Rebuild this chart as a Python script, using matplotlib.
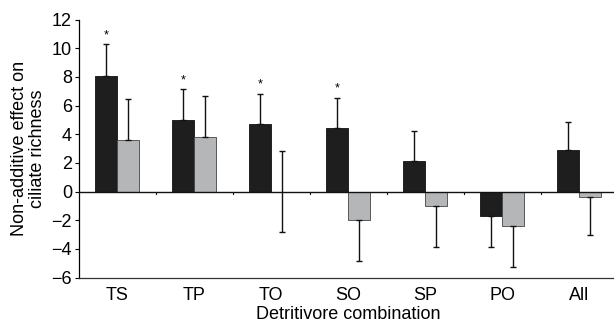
import matplotlib
matplotlib.use("Agg")
import matplotlib.pyplot as plt
import numpy as np

plt.rcParams['font.family'] = ['Liberation Sans', 'DejaVu Sans']

categories = ["TS", "TP", "TO", "SO", "SP", "PO", "All"]
black_vals = [8.09, 5.0, 4.72, 4.44, 2.12, -1.70, 2.91]
black_err = [2.19, 2.16, 2.12, 2.12, 2.14, 2.14, 1.95]
gray_vals = [3.6, 3.84, 0.0, -1.97, -1.0, -2.39, -0.39]
gray_err = [2.87, 2.86, 2.85, 2.87, 2.84, 2.84, 2.61]
significant = [True, True, True, True, False, False, False]
yticks = [-6, -4, -2, 0, 2, 4, 6, 8, 10, 12]

fig = plt.figure(figsize=(6.14, 3.22), dpi=100)
ax = fig.add_axes([0.1287, 0.138, 0.877, 0.801])

x = np.arange(len(categories))
w = 0.286

def one_sided(vals, errs):
    lo, hi = [], []
    for v, e in zip(vals, errs):
        if v > 0:
            lo.append(0); hi.append(e)
        elif v < 0:
            lo.append(e); hi.append(0)
        else:
            lo.append(e); hi.append(e)
    return [lo, hi]

ax.bar(x - w/2, black_vals, w, color='#1e1e1e', edgecolor='#111111', linewidth=0.6, zorder=2)
ax.bar(x + w/2, gray_vals, w, color='#b5b6b8', edgecolor='#444444', linewidth=0.6, zorder=2)
ax.errorbar(x - w/2, black_vals, yerr=one_sided(black_vals, black_err), fmt='none',
            ecolor='#111111', elinewidth=1.0, capsize=2.5, capthick=1.0, zorder=3)
ax.errorbar(x + w/2, gray_vals, yerr=one_sided(gray_vals, gray_err), fmt='none',
            ecolor='#111111', elinewidth=1.0, capsize=2.5, capthick=1.0, zorder=3)

for xi, v, e, s in zip(x, black_vals, black_err, significant):
    if s:
        ax.text(xi - w/2, v + e + 0.2, '*', ha='center', va='bottom', fontsize=9)

ax.axhline(0, color='#111111', linewidth=1.0, zorder=4)
for b in x[:-1] + 0.5:
    ax.plot([b, b], [0, -0.2], color='#111111', linewidth=0.8, zorder=4)

ax.set_xlim(-0.5, 6.5)
ax.set_ylim(-6, 12)
ax.set_yticks(yticks)
ax.set_yticklabels([str(t).replace('-', '\u2212') for t in yticks], fontsize=13)
ax.set_xticks(x)
ax.set_xticklabels(categories, fontsize=13)
ax.tick_params(axis='x', length=0, pad=7)
ax.tick_params(axis='y', length=3, width=0.8, pad=2)

for sp in ['top', 'right']:
    ax.spines[sp].set_visible(False)
ax.spines['left'].set_linewidth(0.9)
ax.spines['bottom'].set_linewidth(0.9)
ax.spines['bottom'].set_color('#333333')

ax.set_ylabel('Non-additive effect on\nciliate richness', fontsize=13, labelpad=4, linespacing=1.05)
ax.set_xlabel('Detritivore combination', fontsize=13, labelpad=1.5)

fig.savefig('out.png', dpi=100)
